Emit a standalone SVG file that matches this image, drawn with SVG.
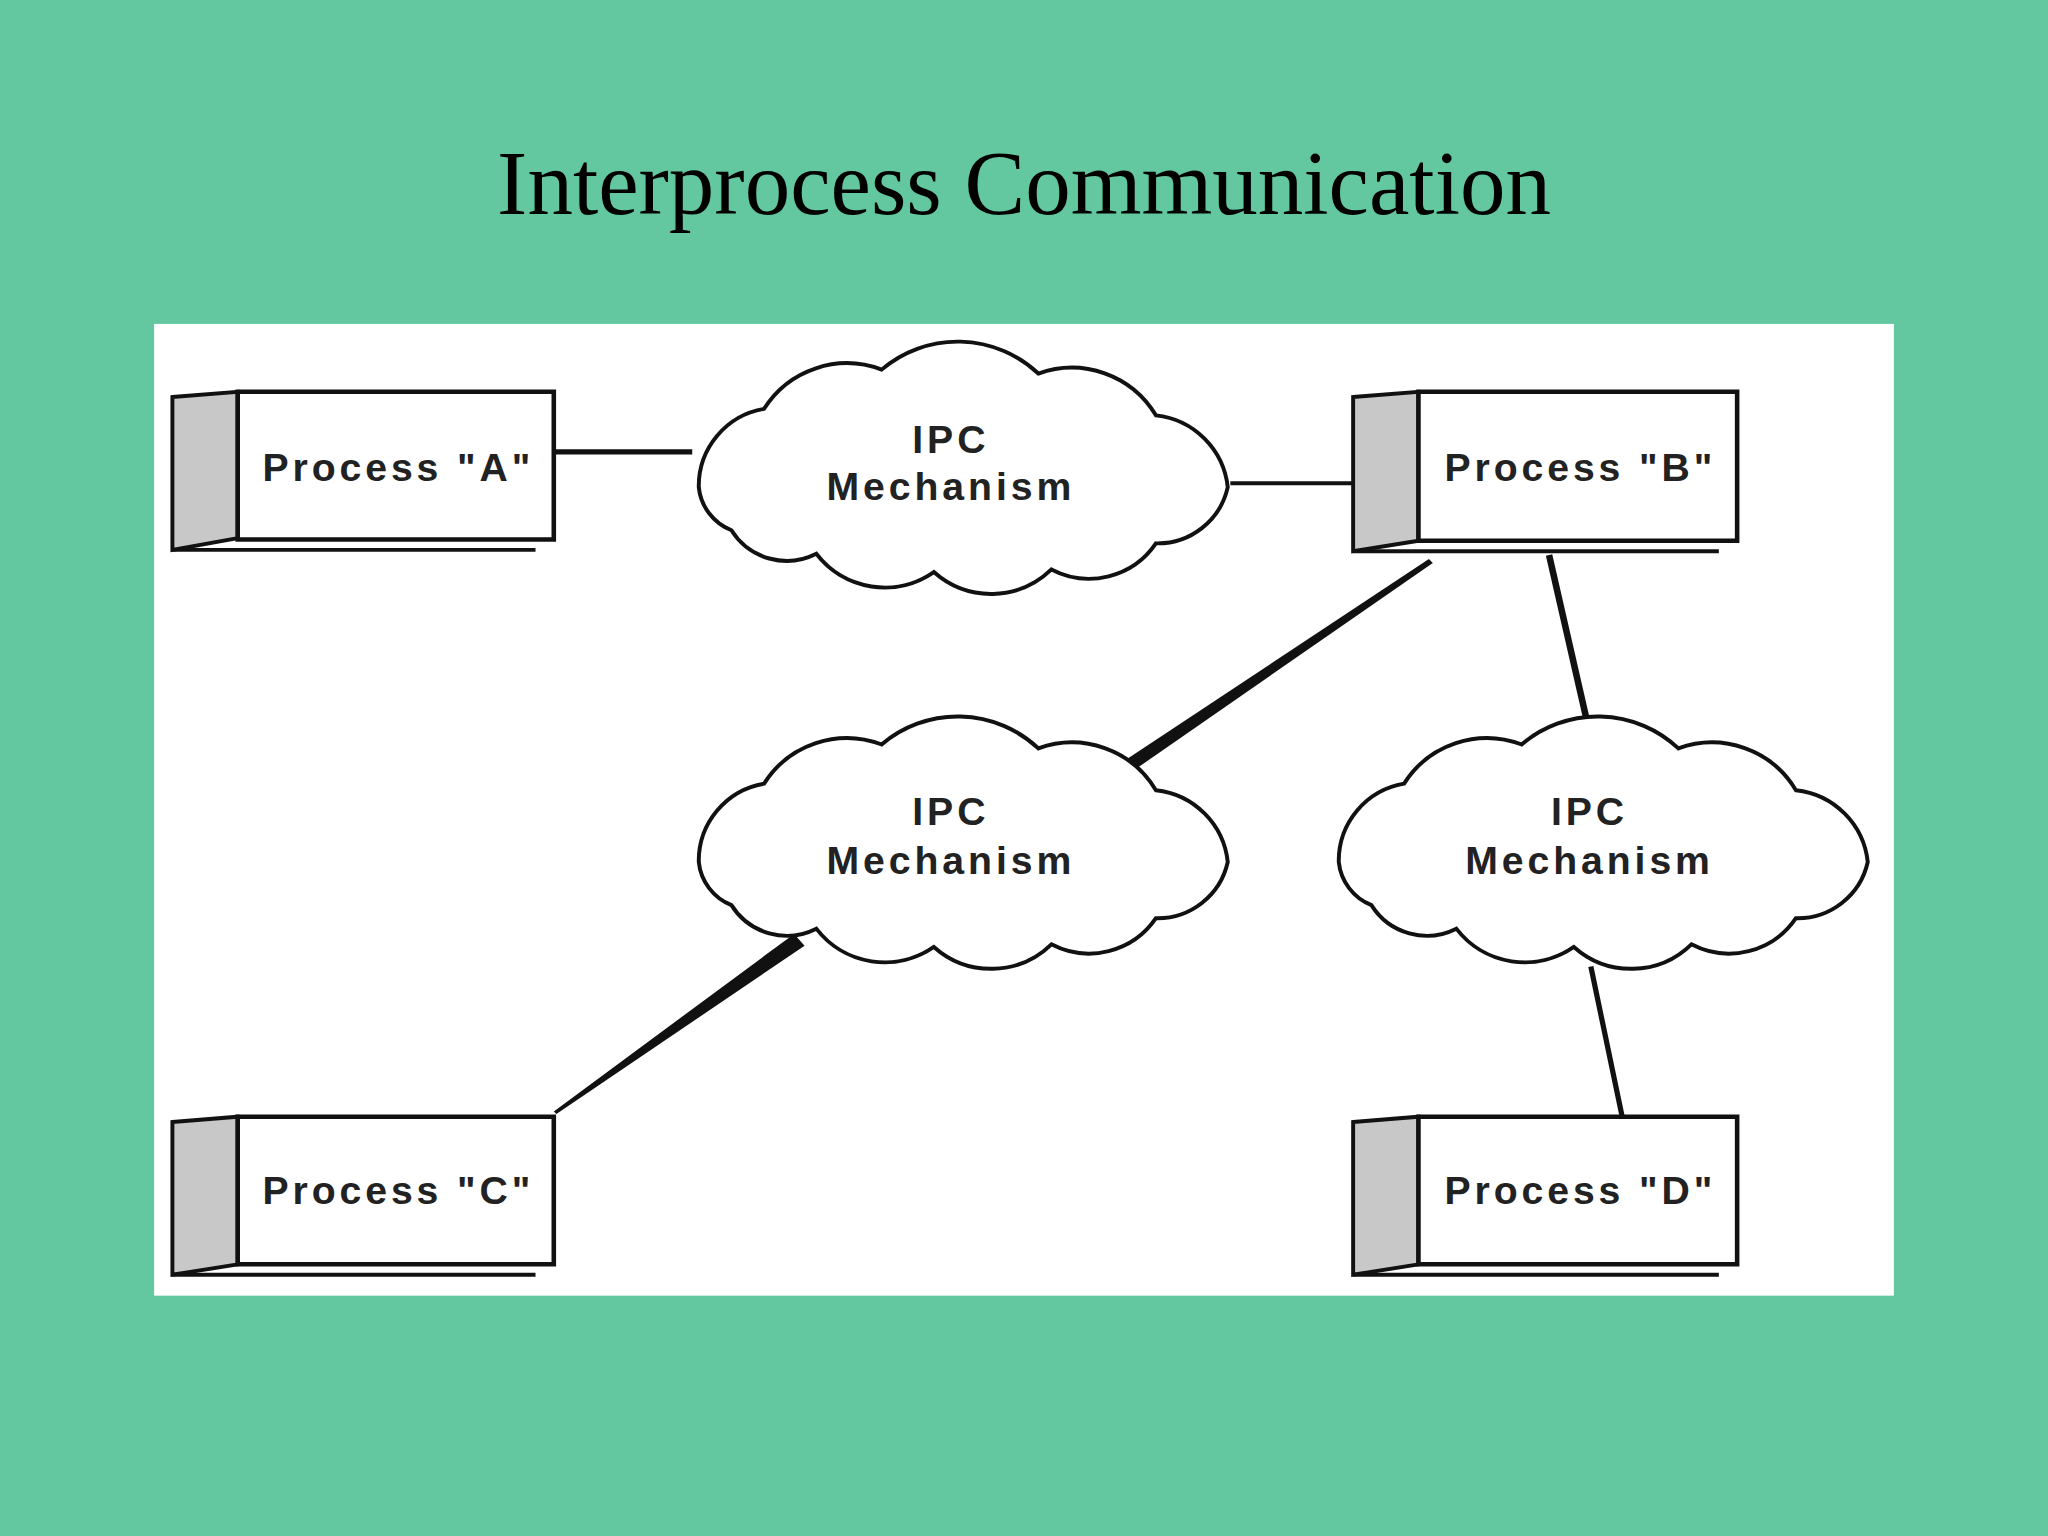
<svg xmlns="http://www.w3.org/2000/svg" width="2048" height="1536" viewBox="0 0 2048 1536">
<style>
.t{font-family:"Liberation Sans",Arial,sans-serif;font-weight:bold;font-size:30px;letter-spacing:3px;fill:#222;text-anchor:middle}
.side{fill:#c8c8c8;stroke:#111;stroke-width:3}
.box{fill:#fff;stroke:#111;stroke-width:3.5}
.cloud{fill:#fff;stroke:#111;stroke-width:3}
</style>
<defs>
<path id="cl" d="M-200,15 A60,60 0 0 1 -150,-45 A75,75 0 0 1 -60,-75 A90,90 0 0 1 60,-72 A75,75 0 0 1 150,-40 A62,62 0 0 1 205,15 A55,55 0 0 1 150,58 A62,62 0 0 1 70,78 A66,66 0 0 1 -20,80 A66,66 0 0 1 -110,66 A50,50 0 0 1 -175,48 A40,40 0 0 1 -200,15 Z"/>
</defs>
<rect width="2048" height="1536" fill="#63c8a0"/>
<text x="1024" y="214" font-family="Liberation Serif,Times New Roman,serif" font-size="91" text-anchor="middle" fill="#000">Interprocess Communication</text>
<g transform="scale(1.30612)">
<rect x="118" y="248" width="1332" height="744" fill="#fff"/>
<g id="connectors" stroke="#111" fill="#111">
<line x1="424" y1="346" x2="530" y2="346" stroke-width="4"/>
<line x1="942" y1="370" x2="1036" y2="370" stroke-width="3"/>
<polygon points="1094,428 1097,431 862,594 857,585" stroke="none"/>
<polygon points="608,715 616,724 426,853 424,851" stroke="none"/>
<line x1="1186" y1="425" x2="1215" y2="552" stroke-width="5"/>
<line x1="1218" y1="740" x2="1242" y2="855" stroke-width="4"/>
</g>
<g id="cloud1"><use href="#cl" class="cloud" transform="translate(735,358)"/><text class="t" x="728" y="347">IPC</text><text class="t" x="728" y="383">Mechanism</text></g>
<g id="cloud2"><use href="#cl" class="cloud" transform="translate(735,645)"/><text class="t" x="728" y="632">IPC</text><text class="t" x="728" y="669">Mechanism</text></g>
<g id="cloud3"><use href="#cl" class="cloud" transform="translate(1225,645)"/><text class="t" x="1217" y="632">IPC</text><text class="t" x="1217" y="669">Mechanism</text></g>
<g id="procA"><polygon class="side" points="132,304 182,300 182,412 132,421"/><polygon class="box" points="182,300 424,300 424,413 182,413"/><line x1="132" y1="421" x2="410" y2="421" stroke="#111" stroke-width="3"/><text class="t" x="305" y="368">Process "A"</text></g>
<g id="procB"><polygon class="side" points="1036,304 1086,300 1086,414 1036,422"/><polygon class="box" points="1086,300 1330,300 1330,414 1086,414"/><line x1="1036" y1="422" x2="1316" y2="422" stroke="#111" stroke-width="3"/><text class="t" x="1210" y="368">Process "B"</text></g>
<g id="procC"><polygon class="side" points="132,859 182,855 182,968 132,976"/><polygon class="box" points="182,855 424,855 424,968 182,968"/><line x1="132" y1="976" x2="410" y2="976" stroke="#111" stroke-width="3"/><text class="t" x="305" y="922">Process "C"</text></g>
<g id="procD"><polygon class="side" points="1036,859 1086,855 1086,968 1036,976"/><polygon class="box" points="1086,855 1330,855 1330,968 1086,968"/><line x1="1036" y1="976" x2="1316" y2="976" stroke="#111" stroke-width="3"/><text class="t" x="1210" y="922">Process "D"</text></g>
</g>
</svg>
